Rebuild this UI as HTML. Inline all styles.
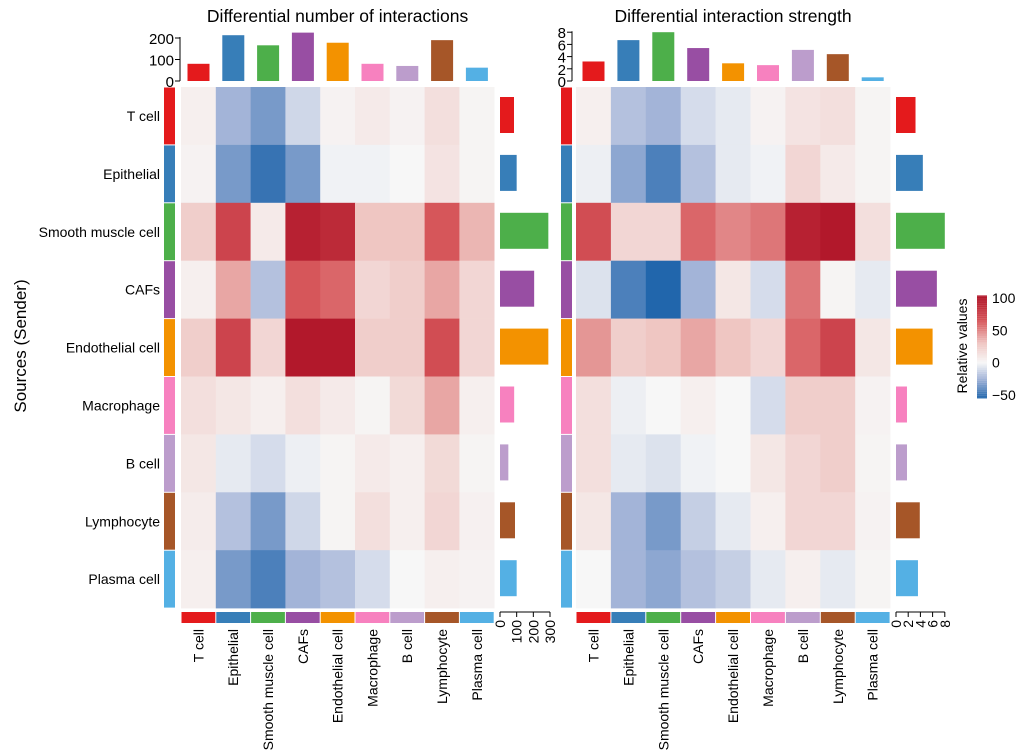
<!DOCTYPE html>
<html><head><meta charset="utf-8"><style>
body{margin:0;background:#fff}
svg{font-family:"Liberation Sans",Arial,sans-serif;display:block}
</style></head><body>
<svg id="c" width="1020" height="756"></svg>
<script>
const cats=["T cell","Epithelial","Smooth muscle cell","CAFs","Endothelial cell","Macrophage","B cell","Lymphocyte","Plasma cell"];
const catColors=["#e41a1c","#377eb8","#4daf4a","#984ea3","#f39200","#f781bf","#bc9dcc","#a65628","#54b0e4"];
const leftMatrix=[
[5,-25,-35,-12,3,8,3,15,2],
[3,-35,-50,-35,-2,-2,0,12,2],
[25,75,8,95,90,30,30,65,35],
[5,40,-20,65,60,20,25,40,20],
[25,75,20,100,100,25,25,70,20],
[15,10,5,15,8,2,18,40,5],
[10,-5,-10,-3,2,8,5,18,2],
[7,-20,-35,-12,2,15,5,20,4],
[5,-35,-45,-25,-20,-10,0,5,3]];
const rightMatrix=[
[5,-20,-25,-10,-5,3,12,15,2],
[-3,-30,-45,-20,-5,-2,20,8,2],
[70,20,20,60,50,55,95,100,15],
[-8,-45,-55,-25,10,-10,55,2,-5],
[45,25,30,40,30,20,60,75,10],
[15,-3,0,5,0,-10,25,25,3],
[15,-5,-8,-2,0,10,20,25,2],
[10,-25,-35,-15,-5,5,20,20,3],
[0,-25,-30,-20,-15,-5,5,-5,2]];
const leftTop=[80,213,166,225,178,80,70,190,62];
const leftSide=[84,100,290,205,290,85,50,90,100];
const rightTop=[3.2,6.7,8.0,5.4,2.9,2.6,5.1,4.4,0.6];
const rightSide=[3.2,4.4,8.0,6.7,6.0,1.8,1.8,3.9,3.6];
const leftTopTicks=[0,100,200];
const leftSideTicks=[0,100,200,300];
const rightTicks=[0,2,4,6,8];
const legendTicks=[100,50,0,-50];

const S=document.getElementById('c');
const NS="http://www.w3.org/2000/svg";
function mk(t,a,p){const e=document.createElementNS(NS,t);for(const k in a)e.setAttribute(k,a[k]);(p||S).appendChild(e);return e;}
function hex(h){return [1,3,5].map(i=>parseInt(h.substr(i,2),16));}
function lerp(a,b,t){const A=hex(a),B=hex(b);return "rgb("+A.map((v,i)=>Math.round(v+(B[i]-v)*t)).join(",")+")";}
const stops=[[-55,"#2166ac"],[-25,"#a3b4d8"],[0,"#f7f7f7"],[30,"#efc6c2"],[65,"#d6565a"],[100,"#b2182b"]];
function col(v){if(v<=stops[0][0])return stops[0][1];for(let i=1;i<stops.length;i++){if(v<=stops[i][0]){const t=(v-stops[i-1][0])/(stops[i][0]-stops[i-1][0]);return lerp(stops[i-1][1],stops[i][1],t);}}return stops[stops.length-1][1];}

const y0=87,rh=57.9;
function rowY(i){return y0+i*rh;}

function panel(o){
  const g=mk('g',{});
  
  
  const t=mk('text',{x:o.x0+o.cw*4.5,y:22,'text-anchor':'middle','font-size':17.5},g);t.textContent=o.title;
  
  o.m.forEach((row,i)=>row.forEach((v,j)=>{
    const r=mk('rect',{x:o.x0+j*o.cw,y:rowY(i),width:o.cw+0.3,height:rh+0.3,fill:col(v)},g);
    
    
  }));
  cats.forEach((c,i)=>{
    const r=mk('rect',{x:o.ax,y:rowY(i)+0.5,width:11,height:rh-1,fill:catColors[i]},g);
    
    
    const r2=mk('rect',{x:o.x0+i*o.cw+0.5,y:612,width:o.cw-1,height:11,fill:catColors[i]},g);
    
    
    const lx=o.x0+(i+0.5)*o.cw+5;
    const tl=mk('text',{x:0,y:0,transform:`translate(${lx},629) rotate(-90)`,'text-anchor':'end','font-size':14},g);
    tl.textContent=c;
    
    
  });
  const tb=v=>81-v*o.ts;
  mk('line',{x1:o.tax,y1:tb(o.ttk[o.ttk.length-1])-1,x2:o.tax,y2:81,stroke:'#000'},g);
  o.ttk.forEach(v=>{mk('line',{x1:o.tax-5,y1:tb(v),x2:o.tax,y2:tb(v),stroke:'#000'},g);
    const tt=mk('text',{x:o.tax-6,y:tb(v)+6,'text-anchor':'end','font-size':o.tfs},g);tt.textContent=v;
    });
  o.top.forEach((v,j)=>{
    const r=mk('rect',{x:o.x0+j*o.cw+6.5,y:tb(v),width:22,height:v*o.ts,fill:catColors[j]},g);
    
    
  });
  const sb=v=>o.sx+v*o.ss;
  o.side.forEach((v,i)=>{
    const r=mk('rect',{x:o.sx,y:rowY(i)+10,width:v*o.ss,height:36,fill:catColors[i]},g);
    
    
  });
  const st=o.stk;
  mk('line',{x1:sb(st[0]),y1:612,x2:sb(st[st.length-1]),y2:612,stroke:'#000'},g);
  st.forEach(v=>{mk('line',{x1:sb(v),y1:612,x2:sb(v),y2:617,stroke:'#000'},g);
    const tt=mk('text',{x:0,y:0,transform:`translate(${sb(v)+5},620) rotate(-90)`,'text-anchor':'end','font-size':14},g);tt.textContent=v;
    });
}
panel({name:'interaction-number-panel',title:'Differential number of interactions',x0:181,cw:34.8,m:leftMatrix,ax:164,
  tax:180,ttk:leftTopTicks,ts:0.215,top:leftTop,tfs:15,side:leftSide,sx:500,ss:50/300,stk:leftSideTicks});
panel({name:'interaction-strength-panel',title:'Differential interaction strength',x0:576,cw:34.9,m:rightMatrix,ax:561,
  tax:572,ttk:rightTicks,ts:6.1,top:rightTop,tfs:15,side:rightSide,sx:896,ss:6.1,stk:rightTicks});
cats.forEach((c,i)=>{
  const t=mk('text',{x:160,y:rowY(i)+rh/2+5,'text-anchor':'end','font-size':14});t.textContent=c;
  
  
});
const yt=mk('text',{x:0,y:0,transform:'translate(26,346) rotate(-90)','text-anchor':'middle','font-size':17});
yt.textContent='Sources (Sender)';


const lg=mk('g',{});


const ly=v=>298+(100-v)*0.647;
for(let v=-55;v<104;v+=1){mk('rect',{x:977,y:ly(v+1),width:10,height:0.8,fill:col(v+0.5)},lg);}
legendTicks.forEach(v=>{const t=mk('text',{x:992,y:ly(v)+5,'font-size':14},lg);t.textContent=v<0?'\u2212'+(-v):v;
  });
const lt=mk('text',{x:0,y:0,transform:'translate(967,346) rotate(-90)','text-anchor':'middle','font-size':14},lg);
lt.textContent='Relative values';


</script>
</body></html>
